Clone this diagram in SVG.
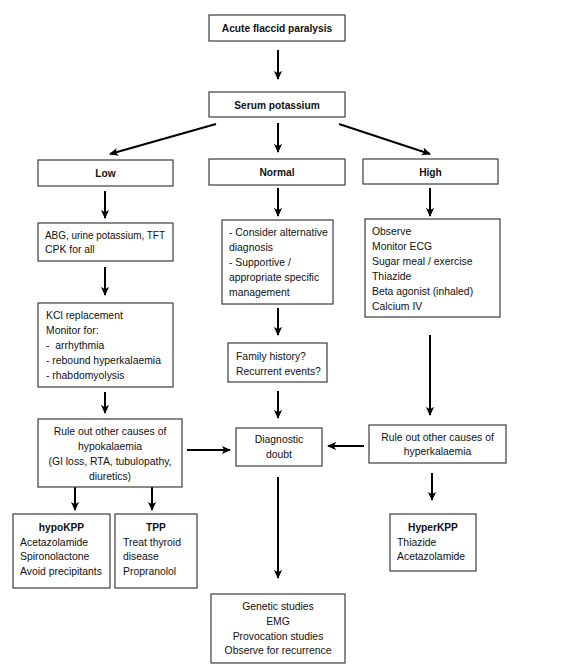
<svg xmlns="http://www.w3.org/2000/svg" width="580" height="671" viewBox="0 0 580 671">
<defs>
<marker id="ah" viewBox="0 0 10 10" refX="9" refY="5" markerWidth="4.5" markerHeight="4.5" markerUnits="strokeWidth" orient="auto">
<path d="M0,0.5 L10,5 L0,9.5 L2.5,5 z" fill="#000"/>
</marker>
<style>
rect{fill:#fff;stroke:#3c3c3c;stroke-width:1.2}
text{font-family:"Liberation Sans",Arial,sans-serif;font-size:10.4px;fill:#111;white-space:pre}
.b{font-weight:bold;font-size:10.2px}
.c{text-anchor:middle}
#connectors line{stroke:#000;stroke-width:2;marker-end:url(#ah)}
</style>
</defs>
<rect x="0" y="0" width="580" height="671" style="fill:#fff;stroke:none"/>
<g id="connectors">
<line x1="278" y1="50" x2="278" y2="79"/>
<line x1="216" y1="124" x2="110" y2="154"/>
<line x1="278" y1="123" x2="278" y2="152"/>
<line x1="339" y1="124" x2="430" y2="154"/>
<line x1="105" y1="191" x2="105" y2="218"/>
<line x1="278" y1="188" x2="278" y2="216"/>
<line x1="430" y1="188" x2="430" y2="216"/>
<line x1="105" y1="267" x2="105" y2="295"/>
<line x1="278" y1="308" x2="278" y2="335"/>
<line x1="278" y1="391" x2="278" y2="418"/>
<line x1="430" y1="335" x2="430" y2="415"/>
<line x1="105" y1="392" x2="105" y2="413"/>
<line x1="187" y1="450" x2="230" y2="450"/>
<line x1="364" y1="446" x2="328" y2="446"/>
<line x1="278" y1="477" x2="278" y2="578"/>
<line x1="432" y1="473" x2="432" y2="500"/>
<line x1="75" y1="487" x2="75" y2="510"/>
<line x1="152" y1="487" x2="152" y2="510"/>
</g>
<g id="acute"><rect x="209" y="15" width="136" height="26"/><text class="b c" x="277" y="32">Acute flaccid paralysis</text></g>
<g id="serum"><rect x="209" y="92" width="136" height="25"/><text class="b c" x="277" y="108.5">Serum potassium</text></g>
<g id="low"><rect x="38" y="160" width="135" height="26"/><text class="b c" x="105.5" y="177">Low</text></g>
<g id="normal"><rect x="209" y="159" width="136" height="26"/><text class="b c" x="277" y="176">Normal</text></g>
<g id="high"><rect x="363" y="159" width="135" height="25"/><text class="b c" x="430.5" y="175.5">High</text></g>
<g id="abg"><rect x="38" y="223" width="135" height="38"/>
<text x="45" y="239" textLength="120" lengthAdjust="spacingAndGlyphs">ABG, urine potassium, TFT</text><text x="45" y="253">CPK for all</text></g>
<g id="consider"><rect x="222" y="220" width="111" height="84"/>
<text x="229" y="236">- Consider alternative</text><text x="229" y="251">diagnosis</text><text x="229" y="266">- Supportive /</text><text x="229" y="281">appropriate specific</text><text x="229" y="296">management</text></g>
<g id="observe"><rect x="365" y="219" width="135" height="98"/>
<text x="372" y="235">Observe</text><text x="372" y="250">Monitor ECG</text><text x="372" y="265">Sugar meal / exercise</text><text x="372" y="280">Thiazide</text><text x="372" y="295">Beta agonist (inhaled)</text><text x="372" y="310">Calcium IV</text></g>
<g id="kcl"><rect x="38" y="303" width="135" height="84"/>
<text x="46" y="319">KCl replacement</text><text x="46" y="334">Monitor for:</text><text x="46" y="349">-  arrhythmia</text><text x="46" y="364">- rebound hyperkalaemia</text><text x="46" y="379">- rhabdomyolysis</text></g>
<g id="family"><rect x="228" y="343" width="99" height="39"/>
<text x="236" y="360">Family history?</text><text x="236" y="375">Recurrent events?</text></g>
<g id="rulehypo"><rect x="38" y="419" width="144" height="68"/>
<text class="c" x="110" y="435">Rule out other causes of</text><text class="c" x="110" y="450">hypokalaemia</text><text class="c" x="110" y="465">(GI loss, RTA, tubulopathy,</text><text class="c" x="110" y="480">diuretics)</text></g>
<g id="diag"><rect x="236" y="428" width="86" height="38"/>
<text class="c" x="279" y="443">Diagnostic</text><text class="c" x="279" y="458">doubt</text></g>
<g id="rulehyper"><rect x="369" y="425" width="137" height="38"/>
<text class="c" x="437.5" y="441">Rule out other causes of</text><text class="c" x="437.5" y="455">hyperkalaemia</text></g>
<g id="hypokpp"><rect x="13" y="514" width="97" height="74"/>
<text class="b c" x="61.5" y="531">hypoKPP</text><text x="20" y="546">Acetazolamide</text><text x="20" y="560">Spironolactone</text><text x="20" y="575">Avoid precipitants</text></g>
<g id="tpp"><rect x="115" y="514" width="82" height="74"/>
<text class="b c" x="156" y="531">TPP</text><text x="123" y="546">Treat thyroid</text><text x="123" y="560">disease</text><text x="123" y="575">Propranolol</text></g>
<g id="hyperkpp"><rect x="390" y="514" width="86" height="57"/>
<text class="b c" x="433" y="531">HyperKPP</text><text x="397" y="546">Thiazide</text><text x="397" y="560">Acetazolamide</text></g>
<g id="genetic"><rect x="211" y="594" width="134" height="69"/>
<text class="c" x="278" y="610">Genetic studies</text><text class="c" x="278" y="625">EMG</text><text class="c" x="278" y="640">Provocation studies</text><text class="c" x="278" y="654">Observe for recurrence</text></g>
</svg>
